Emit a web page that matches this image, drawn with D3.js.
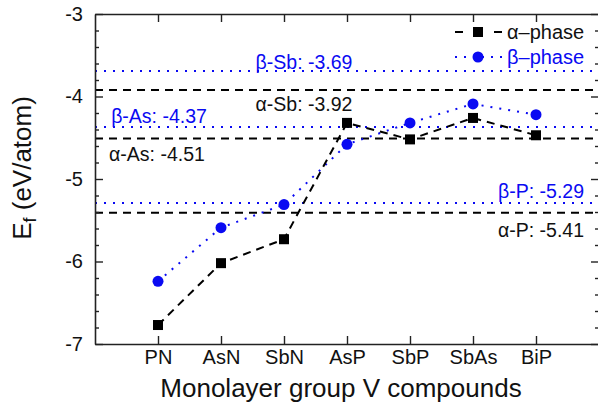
<!DOCTYPE html>
<html>
<head>
<meta charset="utf-8">
<script src="https://cdn.jsdelivr.net/npm/d3@7"></script>
<style>
  body { margin: 0; background: #fff; }
  svg { display: block; font-family: Arial, "Liberation Sans", sans-serif; }
</style>
</head>
<body>
<svg id="chart" width="598" height="404"></svg>
<script>
const compounds = ['PN', 'AsN', 'SbN', 'AsP', 'SbP', 'SbAs', 'BiP'];
const alphaPhase = [-6.77, -6.02, -5.73, -4.32, -4.52, -4.26, -4.47];
const betaPhase = [-6.24, -5.59, -5.31, -4.58, -4.32, -4.09, -4.22];

// elemental reference energies
const refNames = ['β-Sb', 'α-Sb', 'β-As', 'α-As', 'β-P', 'α-P'];
const refValues = [-3.69, -3.92, -4.37, -4.51, -5.29, -5.41];
const refPhase = ['beta', 'alpha', 'beta', 'alpha', 'beta', 'alpha'];

const yTicks = [-7, -6, -5, -4, -3];

const BLUE = '#0a0af2';
const margin = { left: 95, right: 599, top: 14, bottom: 344 };

const svg = d3.select('#chart');

const x = d3.scaleLinear().domain([0, 8]).range([margin.left, margin.right]);
const y = d3.scaleLinear().domain([-7, -3]).range([margin.bottom, margin.top]);

const minorY = d3.range(-7, -2.99, 0.2).filter((v) => Math.abs(v - Math.round(v)) > 1e-6);

const styleAxis = (g) => {
  g.select('.domain').attr('stroke', '#222').attr('stroke-width', 1.6);
  g.selectAll('.tick line').attr('stroke', '#222').attr('stroke-width', 1.4);
};

// reference lines
const refLine = svg.append('g');
refValues.forEach((v, i) => {
  const isBeta = refPhase[i] === 'beta';
  refLine.append('line')
    .attr('x1', margin.left).attr('x2', margin.right)
    .attr('y1', y(v)).attr('y2', y(v))
    .attr('stroke', isBeta ? BLUE : '#000')
    .attr('stroke-width', 2)
    .attr('stroke-dasharray', isBeta ? '2,7' : '8,6');
});

// reference labels
const labelPos = [
  { x: 304, dy: -2, anchor: 'middle' },
  { x: 304, dy: 21, anchor: 'middle' },
  { x: 159, dy: -4, anchor: 'middle' },
  { x: 157, dy: 22, anchor: 'middle' },
  { x: 584, dy: -5, anchor: 'end' },
  { x: 584, dy: 24, anchor: 'end' },
];
refValues.forEach((v, i) => {
  svg.append('text')
    .attr('x', labelPos[i].x)
    .attr('y', y(v) + labelPos[i].dy)
    .attr('text-anchor', labelPos[i].anchor)
    .attr('font-size', 19.5)
    .attr('fill', refPhase[i] === 'beta' ? BLUE : '#111')
    .text(`${refNames[i]}: ${refValues[i].toFixed(2)}`);
});

// axes
svg.append('g')
  .attr('transform', `translate(0,${margin.bottom})`)
  .call(d3.axisBottom(x).tickValues(d3.range(1, 8)).tickSize(-8).tickSizeOuter(0)
    .tickFormat((d) => compounds[d - 1]))
  .call(styleAxis)
  .call((g) => g.selectAll('.tick text').attr('font-size', 20).attr('fill', '#111').attr('dy', 17));

svg.append('g')
  .attr('transform', `translate(0,${margin.top})`)
  .call(d3.axisTop(x).tickValues(d3.range(1, 8)).tickSize(-8).tickSizeOuter(0).tickFormat(''))
  .call(styleAxis);

svg.append('g')
  .attr('transform', `translate(${margin.left},0)`)
  .call(d3.axisLeft(y).tickValues(yTicks).tickSize(-8).tickSizeOuter(0).tickFormat((d) => String(d)))
  .call(styleAxis)
  .call((g) => g.selectAll('.tick text').attr('font-size', 20).attr('fill', '#111').attr('x', -12));

svg.append('g')
  .attr('transform', `translate(${margin.left},0)`)
  .call(d3.axisLeft(y).tickValues(minorY).tickSize(-4).tickFormat(''))
  .call(styleAxis)
  .call((g) => g.select('.domain').remove());

svg.append('g')
  .attr('transform', `translate(${margin.right},0)`)
  .call(d3.axisRight(y).tickValues(yTicks).tickSize(-8).tickSizeOuter(0).tickFormat(''))
  .call(styleAxis);

svg.append('g')
  .attr('transform', `translate(${margin.right},0)`)
  .call(d3.axisRight(y).tickValues(minorY).tickSize(-4).tickFormat(''))
  .call(styleAxis)
  .call((g) => g.select('.domain').remove());

// series
const line = d3.line().x((d, i) => x(i + 1)).y((d) => y(d));

svg.append('path')
  .datum(betaPhase)
  .attr('d', line)
  .attr('fill', 'none')
  .attr('stroke', BLUE)
  .attr('stroke-width', 2)
  .attr('stroke-dasharray', '2,7');

svg.append('path')
  .datum(alphaPhase)
  .attr('d', line)
  .attr('fill', 'none')
  .attr('stroke', '#000')
  .attr('stroke-width', 2)
  .attr('stroke-dasharray', '8,6');

svg.append('g').selectAll('rect')
  .data(alphaPhase)
  .join('rect')
  .attr('x', (d, i) => x(i + 1) - 5)
  .attr('y', (d) => y(d) - 5)
  .attr('width', 10)
  .attr('height', 10)
  .attr('fill', '#000');

svg.append('g').selectAll('circle')
  .data(betaPhase)
  .join('circle')
  .attr('cx', (d, i) => x(i + 1))
  .attr('cy', (d) => y(d))
  .attr('r', 5.5)
  .attr('fill', BLUE);

// legend
const legend = svg.append('g');
[[455, 463], [494, 502]].forEach(([a, b]) => {
  legend.append('line').attr('x1', a).attr('x2', b).attr('y1', 32).attr('y2', 32)
    .attr('stroke', '#000').attr('stroke-width', 2);
});
legend.append('rect').attr('x', 473).attr('y', 27).attr('width', 10).attr('height', 10).attr('fill', '#000');
legend.append('text').attr('x', 507).attr('y', 39).attr('font-size', 20).attr('fill', '#111').text('α–phase');

legend.append('line').attr('x1', 455).attr('x2', 502).attr('y1', 57).attr('y2', 57)
  .attr('stroke', BLUE).attr('stroke-width', 2).attr('stroke-dasharray', '2,7');
legend.append('circle').attr('cx', 478).attr('cy', 57).attr('r', 5.5).attr('fill', BLUE);
legend.append('text').attr('x', 507).attr('y', 64).attr('font-size', 20).attr('fill', BLUE).text('β–phase');

// axis titles
svg.append('text')
  .attr('x', 341)
  .attr('y', 397)
  .attr('text-anchor', 'middle')
  .attr('font-size', 26)
  .attr('fill', '#111')
  .text('Monolayer group V compounds');

const yTitle = svg.append('text')
  .attr('transform', 'translate(31,168) rotate(-90)')
  .attr('text-anchor', 'middle')
  .attr('font-size', 26)
  .attr('fill', '#111');
yTitle.append('tspan').text('E');
yTitle.append('tspan').attr('font-size', 18).attr('dy', 5).text('f');
yTitle.append('tspan').attr('dy', -5).text(' (eV/atom)');
</script>
</body>
</html>
